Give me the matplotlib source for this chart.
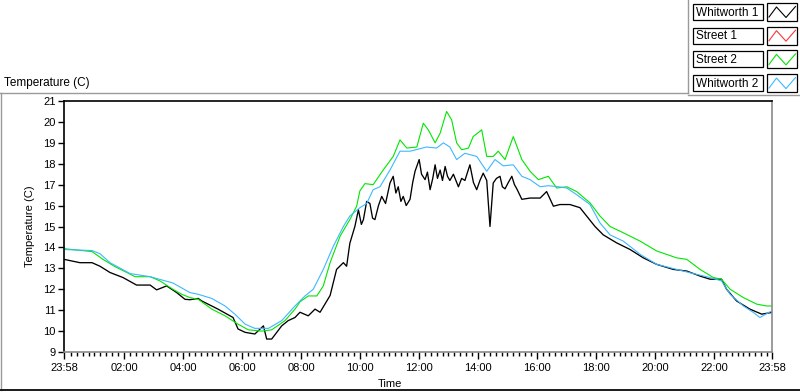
import matplotlib
matplotlib.use("Agg")
import matplotlib.pyplot as plt
from matplotlib.lines import Line2D
from matplotlib.patches import Rectangle

plt.rcParams['font.family'] = ['Liberation Sans', 'DejaVu Sans']
plt.rcParams['font.size'] = 8

# hours since 23:58 of the previous day
green_t = [0, 0.95, 1.32, 1.73, 2.13, 2.41, 2.92, 3.25, 3.69, 3.99, 4.27, 4.55, 5.01, 5.46,
           5.90, 6.25, 6.70, 7.04, 7.49, 7.83, 8.0, 8.28, 8.57, 8.79, 9.02, 9.36, 9.69, 9.92,
           10.03, 10.20, 10.48, 10.82, 11.16, 11.39, 11.62, 11.96, 12.18, 12.35, 12.58, 12.75,
           12.97, 13.14, 13.31, 13.48, 13.71, 13.87, 14.16, 14.33, 14.55, 14.72, 14.95, 15.23,
           15.52, 15.80, 16.08, 16.42, 16.70, 17.04, 17.38, 17.83, 18.17, 18.51, 18.96, 19.53,
           20.09, 20.77, 21.11, 21.56, 22.01, 22.29, 22.58, 23.03, 23.48, 23.82, 24.0]
green_v = [13.94, 13.8, 13.43, 13.08, 12.8, 12.6, 12.6, 12.4, 12.0, 11.76, 11.6, 11.52, 11.05, 10.73,
           10.33, 10.06, 10.0, 10.06, 10.5, 11.05, 11.4, 11.68, 11.68, 12.16, 13.27, 14.54, 15.33, 15.97,
           16.7, 17.05, 17.0, 17.7, 18.35, 19.14, 18.75, 18.8, 19.94, 19.62, 19.0, 19.46,
           20.5, 20.1, 19.0, 18.67, 18.75, 19.3, 19.62, 18.35, 18.35, 18.6, 18.2, 19.3,
           18.2, 17.64, 17.24, 17.4, 16.84, 16.9, 16.67, 16.13, 15.5, 15.0, 14.7, 14.3,
           13.83, 13.5, 13.43, 12.95, 12.56, 12.48, 12.0, 11.6, 11.29, 11.2, 11.2]

blue_t = [0, 0.95, 1.22, 1.56, 2.24, 2.92, 3.69, 4.27, 4.55, 5.01, 5.46, 5.80, 6.14, 6.47, 6.93,
          7.38, 7.83, 8.17, 8.45, 8.79, 9.13, 9.47, 9.69, 10.03, 10.26, 10.48, 10.71, 11.05,
          11.39, 11.73, 12.29, 12.63, 12.86, 13.08, 13.31, 13.59, 13.99, 14.33, 14.61, 14.89,
          15.23, 15.52, 15.80, 16.14, 16.42, 16.76, 17.04, 17.38, 17.83, 18.17, 18.51, 18.96,
          19.53, 20.09, 20.54, 20.99, 21.45, 21.90, 22.29, 22.58, 23.03, 23.37, 23.59, 23.93, 24.0]
blue_v = [13.9, 13.85, 13.7, 13.27, 12.75, 12.6, 12.3, 11.84, 11.76, 11.56, 11.2, 10.8, 10.33, 10.13, 10.13,
          10.5, 11.2, 11.68, 12.0, 12.95, 14.06, 15.0, 15.5, 15.9, 16.1, 16.76, 16.9, 17.7,
          18.6, 18.6, 18.8, 18.75, 19.0, 18.8, 18.2, 18.5, 18.35, 17.64, 18.2, 17.9,
          17.95, 17.4, 17.24, 16.9, 16.95, 16.9, 16.84, 16.52, 16.05, 15.17, 14.6, 14.3,
          13.67, 13.19, 13.03, 12.87, 12.71, 12.56, 12.4, 11.76, 11.2, 10.89, 10.65, 10.92, 10.95]

black_t = [0, 0.54, 0.95, 1.22, 1.56, 2.0, 2.46, 2.92, 3.14, 3.48, 3.82, 4.10, 4.27, 4.55, 4.67,
           5.22, 5.73, 5.90, 6.14, 6.47, 6.76, 6.87, 7.04, 7.38, 7.60, 7.83, 8.0, 8.28, 8.51,
           8.68, 9.02, 9.24, 9.47, 9.58, 9.69, 9.86, 9.98, 10.08, 10.15, 10.26, 10.37, 10.46,
           10.54, 10.66, 10.77, 10.90, 11.05, 11.16, 11.25, 11.33, 11.42, 11.50, 11.60, 11.73,
           11.82, 11.90, 12.04, 12.12, 12.24, 12.32, 12.41, 12.50, 12.58, 12.66, 12.75, 12.83,
           12.92, 13.00, 13.08, 13.20, 13.37, 13.48, 13.59, 13.68, 13.76, 13.88, 13.99, 14.10,
           14.21, 14.33, 14.44, 14.55, 14.66, 14.78, 14.86, 14.95, 15.06, 15.18, 15.27, 15.35,
           15.52, 15.80, 16.14, 16.36, 16.59, 16.81, 17.15, 17.49, 17.83, 18.0, 18.28, 18.73,
           19.19, 19.64, 20.09, 20.65, 21.11, 21.56, 21.90, 22.29, 22.46, 22.80, 23.25, 23.65, 23.99]
black_v = [13.43, 13.27, 13.27, 13.1, 12.8, 12.56, 12.2, 12.2, 11.97, 12.16, 11.84, 11.52, 11.5, 11.56, 11.44,
           11.05, 10.65, 10.1, 9.94, 9.86, 10.25, 9.62, 9.62, 10.25, 10.5, 10.65, 10.9, 10.73, 11.05,
           10.9, 11.7, 12.95, 13.27, 13.1, 14.2, 15.0, 15.8, 15.1, 15.33, 16.2, 16.1, 15.4,
           15.33, 16.0, 16.44, 16.1, 17.08, 17.4, 16.6, 16.9, 16.2, 16.44, 16.0, 16.3,
           17.1, 17.64, 18.2, 17.5, 17.24, 17.6, 16.76, 17.3, 17.95, 17.3, 17.7, 17.2,
           17.87, 17.4, 17.2, 17.5, 16.9, 17.3, 17.2, 17.6, 17.95, 17.1, 16.76, 17.2,
           17.55, 17.2, 15.0, 17.08, 17.3, 17.4, 16.9, 16.8, 17.1, 17.4, 17.0, 16.8,
           16.3, 16.36, 16.36, 16.67, 15.97, 16.05, 16.05, 15.9, 15.3, 15.0, 14.6, 14.22,
           13.9, 13.5, 13.19, 12.95, 12.87, 12.63, 12.48, 12.48, 12.0, 11.44, 11.05, 10.81, 10.89]

legend_names = ['Whitworth 1', 'Street 1', 'Street 2', 'Whitworth 2']
legend_colors = ['#000000', '#ff3535', '#00e600', '#3cb8ff']

tick_pos = [0] + [2 * k + 2 / 60 for k in range(1, 12)] + [24]
tick_lbl = ['23:58', '02:00', '04:00', '06:00', '08:00', '10:00', '12:00', '14:00',
            '16:00', '18:00', '20:00', '22:00', '23:58']

W, H = 800, 392
fig = plt.figure(figsize=(W / 100, H / 100), dpi=100)


def fx(px):
    return px / W


def fy(py):
    return 1 - py / H


ax = fig.add_axes([fx(64), fy(352), fx(772) - fx(64), fy(101) - fy(352)])

ax.plot(black_t, black_v, color=legend_colors[0], lw=0.95)
ax.plot([], [], color=legend_colors[1], lw=0.8)
ax.plot(green_t, green_v, color=legend_colors[2], lw=0.8)
ax.plot(blue_t, blue_v, color=legend_colors[3], lw=0.8)
# black drawn on top again? keep order as in reference: blue over green, black under
ax.set_xlim(0, 24)
ax.set_ylim(9, 21)

ax.set_yticks(range(9, 22))
ax.set_xticks(tick_pos)
ax.set_xticklabels(tick_lbl)
minor = [2 / 60 + 0.2 * k for k in range(1, 120) if abs((2 / 60 + 0.2 * k - 2 / 60) % 2) > 0.05
         and abs((2 / 60 + 0.2 * k - 2 / 60) % 2 - 2) > 0.05 and 0.1 < 2 / 60 + 0.2 * k < 23.95]
ax.set_xticks(minor, minor=True)
ax.tick_params(axis='both', which='major', direction='out', length=4, width=1,
               colors='#000000', labelsize=8, pad=2)
ax.tick_params(axis='x', which='major', length=5, pad=3)
ax.tick_params(axis='x', which='minor', direction='out', length=3, width=1, color='#000000')

for side in ['left', 'top']:
    ax.spines[side].set_color('#000000')
    ax.spines[side].set_linewidth(1.2)
for side in ['right', 'bottom']:
    ax.spines[side].set_color('#8a8a8a')
    ax.spines[side].set_linewidth(1.2)

ax.set_ylabel('Temperature (C)', fontsize=8, labelpad=6)
fig.text(fx(390), fy(384), 'Time', ha='center', va='center', fontsize=8)
fig.text(fx(4), fy(83), 'Temperature (C)', ha='left', va='center', fontsize=8.5)

# outer panel frame
fig.add_artist(Line2D([fx(0), fx(688)], [fy(92.5), fy(92.5)], color='#9a9a9a', lw=1))
fig.add_artist(Line2D([fx(0.5), fx(0.5)], [fy(92.5), fy(390)], color='#9a9a9a', lw=1))
fig.add_artist(Line2D([fx(0), fx(800)], [fy(390), fy(390)], color='#1a1a1a', lw=1.4))
# legend panel frame
fig.add_artist(Line2D([fx(688), fx(688)], [fy(0), fy(93)], color='#9a9a9a', lw=1))
fig.add_artist(Line2D([fx(688), fx(800)], [fy(95), fy(95)], color='#9a9a9a', lw=1))

for i, (name, col) in enumerate(zip(legend_names, legend_colors)):
    top = 4 + i * 23.7
    fig.add_artist(Rectangle((fx(693), fy(top + 16)), fx(70), fy(0) - fy(16),
                             fill=False, ec='#000000', lw=0.9))
    fig.text(fx(696), fy(top + 8.5), name, ha='left', va='center', fontsize=8.5)
    fig.add_artist(Rectangle((fx(767), fy(top + 17)), fx(30), fy(0) - fy(18),
                             fill=False, ec='#000000', lw=0.9))
    fig.add_artist(Line2D([fx(769), fx(776.5), fx(786), fx(795.5)],
                          [fy(top + 13), fy(top + 3), fy(top + 13.5), fy(top + 2.5)],
                          color=col, lw=0.8))

fig.savefig('out.png', dpi=100)
